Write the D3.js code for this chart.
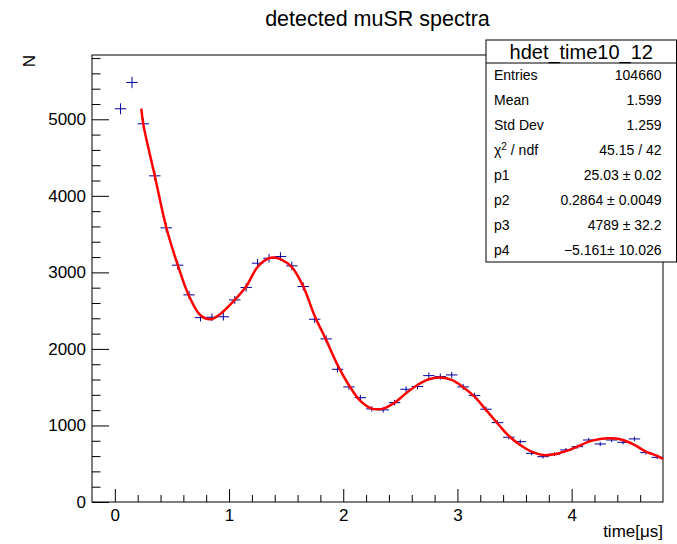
<!DOCTYPE html>
<html>
<head>
<meta charset="utf-8">
<script src="https://cdn.jsdelivr.net/npm/d3@7"></script>
<style>
  body { margin: 0; background: #fff; }
  text { font-family: "Liberation Sans", Arial, Helvetica, sans-serif; }
</style>
</head>
<body>
<svg id="svg1" width="677" height="544"></svg>
<script>
"use strict"

// ======================================================================
// histogram data: counts per bin (bin width 0.1 us, first bin starts at 0)
const binWidth = 0.1;
const firstBinLow = 0;
const counts = [5137, 5481, 4941, 4261, 3582, 3094, 2706, 2409, 2414, 2420,
                2640, 2802, 3120, 3185, 3207, 3085, 2815, 2388, 2131, 1734,
                1504, 1363, 1216, 1203, 1298, 1473, 1508, 1651, 1638, 1660,
                1504, 1390, 1212, 1037, 846, 788, 636, 592, 624, 680,
                723, 810, 758, 810, 780, 824, 645, 584];

// fit curve
const fitT = [0.232, 0.25, 0.35, 0.45, 0.55, 0.65, 0.75, 0.836, 0.924, 1.05,
              1.15, 1.25, 1.35, 1.39, 1.45, 1.55, 1.65, 1.75, 1.85, 1.95,
              2.05, 2.15, 2.25, 2.31, 2.35, 2.45, 2.55, 2.65, 2.75, 2.85,
              2.95, 3.05, 3.15, 3.25, 3.35, 3.45, 3.55, 3.65, 3.75, 3.85,
              3.95, 4.05, 4.15, 4.25, 4.35, 4.45, 4.55, 4.65, 4.75, 4.8];
const fitN = [5140, 4930, 4260, 3590, 3100, 2690, 2440, 2388, 2457, 2640,
              2815, 3070, 3185, 3194, 3172, 3068, 2815, 2431, 2118, 1791,
              1525, 1320, 1220, 1212, 1220, 1298, 1421, 1529, 1604, 1625,
              1595, 1500, 1377, 1203, 1029, 863, 745, 658, 614, 623,
              665, 723, 788, 824, 832, 810, 745, 658, 601, 562];

// axis ticks
const xMajor = [0, 1, 2, 3, 4];
const xMinor = [0.2, 0.4, 0.6, 0.8, 1.2, 1.4, 1.6, 1.8, 2.2, 2.4, 2.6, 2.8,
                3.2, 3.4, 3.6, 3.8, 4.2, 4.4, 4.6];
const yMajor = [0, 1000, 2000, 3000, 4000, 5000];
const yMinor = [200, 400, 600, 800, 1200, 1400, 1600, 1800, 2200, 2400, 2600, 2800,
                3200, 3400, 3600, 3800, 4200, 4400, 4600, 4800, 5200, 5400, 5600, 5800];

// stats box entries
const statsTitle = "hdet_time10_12";
const statsLabels = ["Entries", "Mean", "Std Dev", "chi2", "p1", "p2", "p3", "p4"];
const statsValues = ["104660", "1.599", "1.259", "45.15 / 42", "25.03 \u00b1 0.02",
                     "0.2864 \u00b1 0.0049", "4789 \u00b1 32.2", "\u22125.161\u00b1 10.026"];

// =======================================
// frame geometry
const svg = d3.select("#svg1");
const frame = {left: 92, right: 663, top: 55, bottom: 502};

const x = d3.scaleLinear().domain([-0.2, 4.8]).range([frame.left, frame.right]);
const y = d3.scaleLinear().domain([0, 5840]).range([frame.bottom, frame.top]);

svg.append("rect").attr("width", 677).attr("height", 544).attr("fill", "#fff");

// title
svg.append("text")
  .attr("x", (frame.left + frame.right) / 2)
  .attr("y", 26)
  .attr("text-anchor", "middle")
  .style("font-size", "21.5px")
  .text("detected muSR spectra");

// x axis: major and minor ticks pointing up into the frame
svg.append("g")
  .attr("transform", `translate(0,${frame.bottom})`)
  .call(d3.axisBottom(x).tickValues(xMajor).tickSizeInner(-13).tickSizeOuter(0)
        .tickPadding(7).tickFormat(d3.format("d")))
  .call(g => g.select(".domain").remove())
  .call(g => g.selectAll("text").style("font-size", "17px").attr("fill", "#000"));

svg.append("g")
  .attr("transform", `translate(0,${frame.bottom})`)
  .call(d3.axisBottom(x).tickValues(xMinor).tickSizeInner(-7).tickSizeOuter(0).tickFormat(""))
  .call(g => g.select(".domain").remove());

// y axis
svg.append("g")
  .attr("transform", `translate(${frame.left},0)`)
  .call(d3.axisLeft(y).tickValues(yMajor).tickSizeInner(-17).tickSizeOuter(0)
        .tickPadding(6).tickFormat(d3.format("d")))
  .call(g => g.select(".domain").remove())
  .call(g => g.selectAll("text").style("font-size", "17px").attr("fill", "#000"));

svg.append("g")
  .attr("transform", `translate(${frame.left},0)`)
  .call(d3.axisLeft(y).tickValues(yMinor).tickSizeInner(-8.5).tickSizeOuter(0).tickFormat(""))
  .call(g => g.select(".domain").remove());

// frame
svg.append("rect")
  .attr("x", frame.left).attr("y", frame.top)
  .attr("width", frame.right - frame.left).attr("height", frame.bottom - frame.top)
  .attr("fill", "none").attr("stroke", "#000").attr("stroke-width", 1);

// axis titles
svg.append("text")
  .attr("transform", `translate(35,${frame.top}) rotate(-90)`)
  .attr("text-anchor", "end")
  .style("font-size", "17px")
  .text("N");

svg.append("text")
  .attr("x", frame.right)
  .attr("y", 537)
  .attr("text-anchor", "end")
  .style("font-size", "17px")
  .text("time[\u03bcs]");

// histogram as error crosses (bin width horizontally, sqrt(N) vertically)
const bins = counts.map((n, i) => ({
  lo: firstBinLow + i * binWidth,
  hi: firstBinLow + (i + 1) * binWidth,
  n: n
}));

const marks = svg.append("g").attr("stroke", "#00009c").attr("stroke-width", 1);

marks.selectAll(".herr")
  .data(bins)
  .enter().append("line")
    .attr("class", "herr")
    .attr("x1", d => x(d.lo))
    .attr("x2", d => x(d.hi))
    .attr("y1", d => y(d.n))
    .attr("y2", d => y(d.n));

marks.selectAll(".verr")
  .data(bins)
  .enter().append("line")
    .attr("class", "verr")
    .attr("x1", d => x((d.lo + d.hi) / 2))
    .attr("x2", d => x((d.lo + d.hi) / 2))
    .attr("y1", d => y(d.n - Math.sqrt(d.n)))
    .attr("y2", d => y(d.n + Math.sqrt(d.n)));

// fit function
const fitLine = d3.line()
  .x((d, i) => x(fitT[i]))
  .y(d => y(d))
  .curve(d3.curveCatmullRom);

svg.append("path")
  .attr("d", fitLine(fitN))
  .attr("fill", "none")
  .attr("stroke", "#ff0000")
  .attr("stroke-width", 2.5);

// stats box
const box = {left: 486, right: 676.5, top: 40, bottom: 262, titleBottom: 63};
const rowH = (box.bottom - box.titleBottom) / statsLabels.length;

svg.append("rect")
  .attr("x", box.left).attr("y", box.top)
  .attr("width", box.right - box.left).attr("height", box.bottom - box.top)
  .attr("fill", "#fff").attr("stroke", "#000").attr("stroke-width", 1);

svg.append("line")
  .attr("x1", box.left).attr("x2", box.right)
  .attr("y1", box.titleBottom).attr("y2", box.titleBottom)
  .attr("stroke", "#000");

svg.append("text")
  .attr("x", (box.left + box.right) / 2)
  .attr("y", box.top + 18.5)
  .attr("text-anchor", "middle")
  .style("font-size", "20px")
  .text(statsTitle);

statsLabels.forEach((label, i) => {
  let base = box.titleBottom + rowH * (i + 0.5) + 5;
  let t = svg.append("text")
    .attr("x", box.left + 8)
    .attr("y", base)
    .style("font-size", "14px");
  if (label === "chi2") {
    t.append("tspan").text("\u03c7");
    t.append("tspan").attr("dy", -5).style("font-size", "10px").text("2");
    t.append("tspan").attr("dy", 5).text(" / ndf");
  } else {
    t.text(label);
  }
  svg.append("text")
    .attr("x", box.right - 15)
    .attr("y", base)
    .attr("text-anchor", "end")
    .style("font-size", "14px")
    .text(statsValues[i]);
});
</script>
</body>
</html>
